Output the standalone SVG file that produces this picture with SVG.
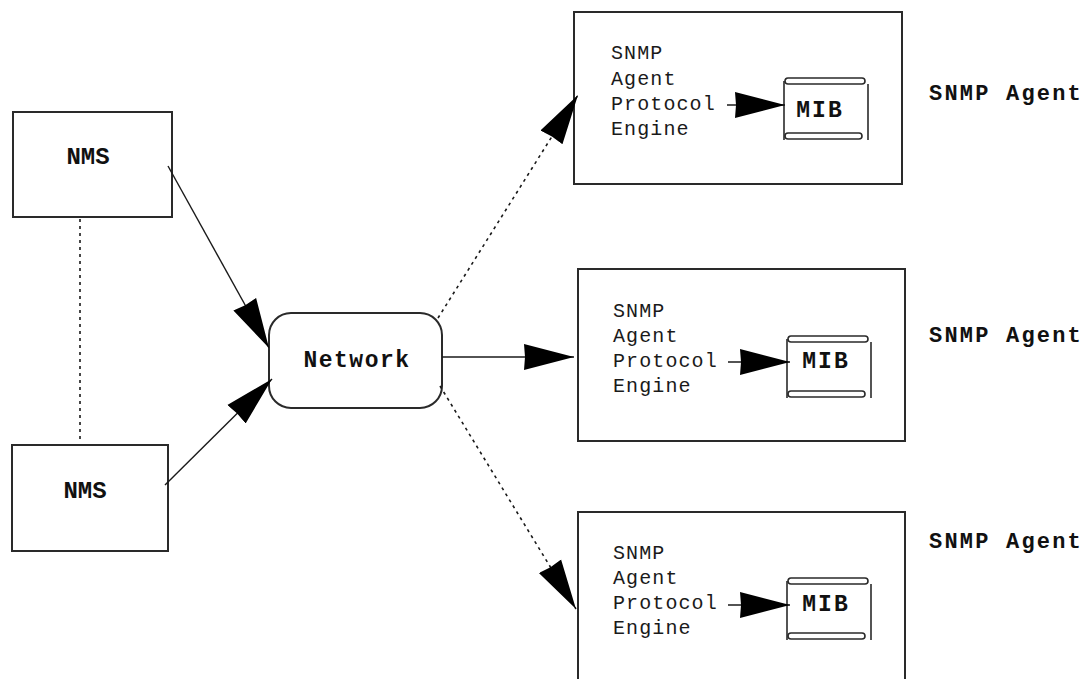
<svg xmlns="http://www.w3.org/2000/svg" width="1091" height="679" viewBox="0 0 1091 679">
  <style>
    .box { fill: none; stroke: #2a2a2a; stroke-width: 2; }
    .scroll { fill: none; stroke: #2a2a2a; stroke-width: 1.6; }
    .lbl { font-family: "Liberation Mono", "Courier New", monospace; font-weight: bold; fill: #111; }
    .eng { font-family: "Liberation Mono", "Courier New", monospace; font-size: 20px; letter-spacing: 1.1px; fill: #1a1a1a; }
    .mib { font-family: "Liberation Mono", "Courier New", monospace; font-weight: bold; font-size: 23px; letter-spacing: 2px; fill: #111; text-anchor: middle; }
    .link { fill: none; stroke: #1a1a1a; stroke-width: 1.4; }
    .dot { fill: none; stroke: #1a1a1a; stroke-width: 1.6; stroke-dasharray: 3 4; }
  </style>
  <defs>
    <marker id="ah" viewBox="0 0 50 28" refX="50" refY="14" markerWidth="50" markerHeight="28" markerUnits="userSpaceOnUse" orient="auto">
      <path d="M0,1 L50,14 L0,27 L1,14 Z" fill="#000" stroke="none"/>
    </marker>
    <!-- rolled-paper symbol for a MIB store -->
    <g id="scrollShape">
      <rect class="scroll" x="1" y="0" width="80" height="6" rx="3"/>
      <rect class="scroll" x="1" y="55" width="77" height="6" rx="3"/>
      <line class="scroll" x1="0" y1="3" x2="0" y2="62"/>
      <line class="scroll" x1="84" y1="6" x2="84" y2="62"/>
    </g>
  </defs>

  <rect width="1091" height="679" fill="#fff"/>

  <g id="nms-1">
    <rect class="box" x="13" y="112" width="159" height="105"/>
    <text class="lbl" x="88" y="164" font-size="24" text-anchor="middle">NMS</text>
  </g>

  <g id="nms-2">
    <rect class="box" x="12" y="445" width="156" height="106"/>
    <text class="lbl" x="85" y="498" font-size="24" text-anchor="middle">NMS</text>
  </g>

  <g id="network">
    <rect class="box" x="269" y="313" width="173" height="95" rx="22"/>
    <text class="lbl" x="357" y="367" font-size="23" letter-spacing="1.5" text-anchor="middle">Network</text>
  </g>

  <g id="agent-1">
    <rect class="box" x="574" y="12" width="328" height="172"/>
    <text class="eng" x="611" y="59">SNMP</text>
    <text class="eng" x="611" y="85">Agent</text>
    <text class="eng" x="611" y="110">Protocol</text>
    <text class="eng" x="611" y="135">Engine</text>
    <use href="#scrollShape" x="784" y="78"/>
    <text class="mib" x="820" y="117">MIB</text>
    <line class="link" x1="727" y1="105" x2="785" y2="105" marker-end="url(#ah)"/>
    <text class="lbl" x="929" y="100" font-size="22" letter-spacing="2.2">SNMP Agent</text>
  </g>

  <g id="agent-2">
    <rect class="box" x="578" y="269" width="327" height="172"/>
    <text class="eng" x="613" y="317">SNMP</text>
    <text class="eng" x="613" y="342">Agent</text>
    <text class="eng" x="613" y="367">Protocol</text>
    <text class="eng" x="613" y="392">Engine</text>
    <use href="#scrollShape" x="787" y="336"/>
    <text class="mib" x="826" y="368">MIB</text>
    <line class="link" x1="728" y1="362" x2="790" y2="362" marker-end="url(#ah)"/>
    <text class="lbl" x="929" y="342" font-size="22" letter-spacing="2.2">SNMP Agent</text>
  </g>

  <g id="agent-3">
    <rect class="box" x="578" y="512" width="327" height="180"/>
    <text class="eng" x="613" y="559">SNMP</text>
    <text class="eng" x="613" y="584">Agent</text>
    <text class="eng" x="613" y="609">Protocol</text>
    <text class="eng" x="613" y="634">Engine</text>
    <use href="#scrollShape" x="787" y="578"/>
    <text class="mib" x="826" y="611">MIB</text>
    <line class="link" x1="728" y1="605" x2="790" y2="605" marker-end="url(#ah)"/>
    <text class="lbl" x="929" y="548" font-size="22" letter-spacing="2.2">SNMP Agent</text>
  </g>

  <g id="connectors">
    <line class="dot" x1="80" y1="219" x2="80" y2="443"/>
    <line class="link" x1="168" y1="166" x2="269" y2="348" marker-end="url(#ah)"/>
    <line class="link" x1="165" y1="485" x2="272" y2="379" marker-end="url(#ah)"/>
    <line class="dot" x1="438" y1="318" x2="578" y2="95" marker-end="url(#ah)"/>
    <line class="link" x1="442" y1="357" x2="574" y2="357" marker-end="url(#ah)"/>
    <line class="dot" x1="440" y1="386" x2="576" y2="609" marker-end="url(#ah)"/>
  </g>
</svg>
